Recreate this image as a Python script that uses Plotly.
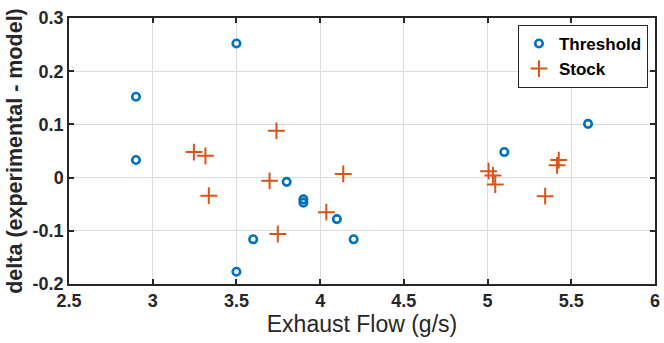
import plotly.graph_objects as go

thr_x = [2.9, 2.9, 3.5, 3.5, 3.6, 3.8, 3.9, 3.9, 4.1, 4.2, 5.1, 5.6]
thr_y = [0.152, 0.033, 0.252, -0.177, -0.116, -0.008, -0.041, -0.047, -0.078, -0.116, 0.048, 0.101]

stk_x = [3.246, 3.315, 3.335, 3.698, 3.739, 3.747, 4.037, 4.138, 5.006, 5.032, 5.046, 5.344, 5.415, 5.425]
stk_y = [0.048, 0.041, -0.034, -0.006, 0.088, -0.106, -0.065, 0.007, 0.012, 0.004, -0.013, -0.035, 0.023, 0.033]

x_ticks = [2.5, 3, 3.5, 4, 4.5, 5, 5.5, 6]
x_labels = ["2.5", "3", "3.5", "4", "4.5", "5", "5.5", "6"]
y_ticks = [-0.2, -0.1, 0, 0.1, 0.2, 0.3]
y_labels = ["-0.2", "-0.1", "0", "0.1", "0.2", "0.3"]

BLUE = "#0072BD"
ORANGE = "#D95319"
FONT = "Liberation Sans"

fig = go.Figure()
fig.add_trace(go.Scatter(
    x=thr_x, y=thr_y, mode="markers", name="<b>Threshold</b>",
    marker=dict(symbol="circle-open", size=7.5, color=BLUE, line=dict(width=2.6, color=BLUE)),
))
fig.add_trace(go.Scatter(
    x=stk_x, y=stk_y, mode="markers", name="<b>Stock</b>",
    marker=dict(symbol="cross-thin-open", size=12, color=ORANGE, line=dict(width=2, color=ORANGE)),
))

axis_common = dict(
    showgrid=True, gridcolor="#dcdcdc", gridwidth=1,
    zeroline=False, showline=True, linecolor="#262626", linewidth=1.5,
    mirror="allticks", ticks="inside", ticklen=5, tickwidth=1.5, tickcolor="#262626",
    tickfont=dict(family=FONT, size=18, color="#262626"),
)

fig.update_layout(
    width=664, height=343,
    margin=dict(l=69, r=4, t=18, b=59),
    paper_bgcolor="white", plot_bgcolor="white",
    font=dict(family=FONT, color="#262626"),
    xaxis=dict(
        range=[2.5, 6], tickvals=x_ticks, ticktext=["<b>%s</b>" % t for t in x_labels],
        title=dict(text="Exhaust Flow (g/s)", font=dict(family=FONT, size=23, color="#262626"), standoff=6),
        **axis_common,
    ),
    yaxis=dict(
        range=[-0.2, 0.3], tickvals=y_ticks, ticktext=["<b>%s</b>" % t for t in y_labels],
        title=dict(text="<b>delta (experimental - model)</b>", font=dict(family=FONT, size=21.5, color="#262626"), standoff=4),
        **axis_common,
    ),
    legend=dict(
        x=0.988, y=0.974, xanchor="right", yanchor="top",
        bgcolor="white", bordercolor="#262626", borderwidth=1,
        font=dict(family=FONT, size=17, color="#000000"),
        tracegroupgap=0, itemwidth=30,
    ),
    showlegend=True,
)

fig.write_html("out.html")
